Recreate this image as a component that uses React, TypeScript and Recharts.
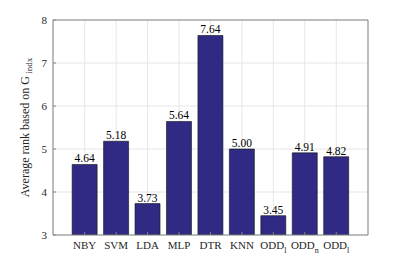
import React from 'react';
import { BarChart, Bar, XAxis, YAxis, CartesianGrid, LabelList } from 'recharts';

const methods = ['NBY', 'SVM', 'LDA', 'MLP', 'DTR', 'KNN', 'ODD', 'ODD', 'ODD'];
const subscripts = ['', '', '', '', '', '', 'l', 'n', 'l'];
const ranks = [4.64, 5.18, 3.73, 5.64, 7.64, 5.0, 3.45, 4.91, 4.82];
const yTicks = [3, 4, 5, 6, 7, 8];

const data = methods.map((m, i) => ({ key: i, name: m, sub: subscripts[i], rank: ranks[i] }));

const FONT = '"Liberation Serif", "Times New Roman", serif';
const AXIS = '#858585';
const TEXT = '#262626';

const XTick = (props: any) => {
  const { x, y, payload } = props;
  const d = data[payload.value];
  return (
    <text x={x} y={y + 17} textAnchor="middle" fontFamily={FONT} fontSize={11} fill={TEXT}>
      {d.name}
      {d.sub ? (
        <tspan fontSize={8} dy={4}>
          {d.sub}
        </tspan>
      ) : null}
    </text>
  );
};

const YLabel = (props: any) => {
  const { viewBox } = props;
  const cy = viewBox.y + viewBox.height / 2;
  const cx = 25;
  return (
    <text
      x={cx}
      y={cy}
      transform={`rotate(-90 ${cx} ${cy})`}
      textAnchor="middle"
      dominantBaseline="central"
      fontFamily={FONT}
      fontSize={12}
      fill={TEXT}
    >
      Average rank based on G
      <tspan fontSize={9} dy={4}> indx</tspan>
    </text>
  );
};

const ValueLabel = (props: any) => {
  const { x, y, width, value } = props;
  return (
    <text x={x + width / 2} y={y - 2} textAnchor="middle" fontFamily={FONT} fontSize={11.5} fill="#000">
      {Number(value).toFixed(2)}
    </text>
  );
};

const App = () => {
  return (
    <div style={{ position: 'absolute', left: 0, top: 0, background: '#fff' }}>
      <BarChart
        width={407}
        height={265}
        data={data}
        margin={{ top: 20, right: 39, bottom: 0, left: 0 }}
        barCategoryGap="10%"
      >
        <CartesianGrid stroke="#e6e6e6" strokeWidth={1} />
        {/* box edges on top and right, like MATLAB's box on */}
        <CartesianGrid
          stroke={AXIS}
          strokeWidth={1}
          horizontalCoordinatesGenerator={({ offset }: any) => [offset.top]}
          verticalCoordinatesGenerator={({ offset }: any) => [offset.left + offset.width]}
        />
        <XAxis
          dataKey="key"
          height={30}
          padding={{ left: 16, right: 16 }}
          stroke={AXIS}
          tickSize={-3}
          tickMargin={0}
          tick={<XTick />}
          interval={0}
        />
        <YAxis
          width={53}
          domain={[3, 8]}
          ticks={yTicks}
          allowDataOverflow
          stroke={AXIS}
          tickSize={-3}
          tickMargin={9}
          tick={{ fontFamily: FONT, fontSize: 11, fill: TEXT }}
          label={<YLabel />}
        />
        <Bar dataKey="rank" fill="#312a84" stroke="#111" strokeWidth={0.6} isAnimationActive={false}>
          <LabelList dataKey="rank" content={<ValueLabel />} />
        </Bar>
      </BarChart>
    </div>
  );
};

export default App;
